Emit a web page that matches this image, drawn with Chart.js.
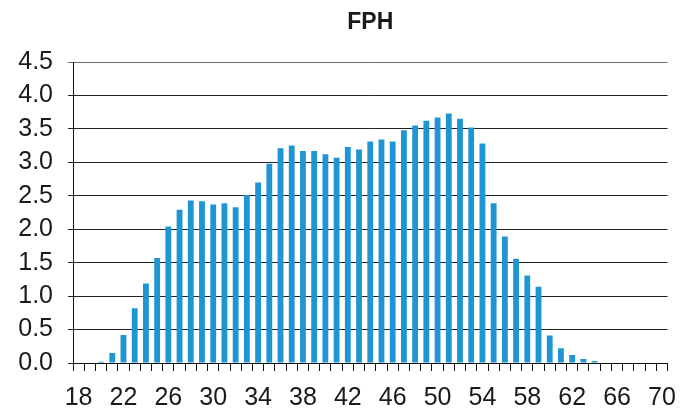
<!DOCTYPE html>
<html>
<head>
<meta charset="utf-8">
<script src="https://cdn.jsdelivr.net/npm/chart.js@4.4.0/dist/chart.umd.min.js"></script>
<style>
  html, body { margin: 0; padding: 0; background: #ffffff; }
  #wrap { width: 688px; height: 410px; position: relative; }
</style>
</head>
<body>
<div id="wrap"><canvas id="c" width="688" height="410"></canvas></div>
<script>
const categories = [18,19,20,21,22,23,24,25,26,27,28,29,30,31,32,33,34,35,36,37,38,39,40,41,42,43,44,45,46,47,48,49,50,51,52,53,54,55,56,57,58,59,60,61,62,63,64,65,66,67,68,69,70];
const fphValues = [0,0,0.02,0.15,0.42,0.82,1.19,1.57,2.04,2.29,2.43,2.42,2.37,2.39,2.33,2.51,2.70,2.98,3.21,3.25,3.17,3.17,3.12,3.07,3.23,3.19,3.31,3.34,3.31,3.48,3.55,3.62,3.67,3.73,3.65,3.52,3.28,2.39,1.89,1.56,1.31,1.14,0.41,0.22,0.12,0.06,0.03,0,0,0,0,0,0];
const xTickLabels = [18,22,26,30,34,38,42,46,50,54,58,62,66,70];
const yTickValues = [0,0.5,1.0,1.5,2.0,2.5,3.0,3.5,4.0,4.5];
const chartTitle = 'FPH';

const FONT = "'Liberation Sans', Arial, Helvetica, sans-serif";

new Chart(document.getElementById('c'), {
  type: 'bar',
  data: {
    labels: categories.map(String),
    datasets: [{
      label: chartTitle,
      data: fphValues,
      backgroundColor: '#1f96d3',
      borderWidth: 0,
      barPercentage: 0.52,
      categoryPercentage: 1.0
    }]
  },
  options: {
    responsive: false,
    animation: false,
    devicePixelRatio: 1,
    layout: { padding: { left: 0, right: 10, top: 0, bottom: 0 } },
    plugins: {
      legend: { display: false },
      tooltip: { enabled: false },
      title: {
        display: true,
        text: chartTitle,
        fullSize: false,
        color: '#1a1a1a',
        font: { family: FONT, size: 23, weight: 'bold', lineHeight: 1.2 },
        padding: { top: 9, bottom: 25.4 }
      }
    },
    scales: {
      x: {
        type: 'category',
        offset: true,
        grid: {
          display: true,
          offset: true,
          drawOnChartArea: false,
          drawTicks: true,
          tickLength: 8,
          color: '#111111',
          lineWidth: 1
        },
        border: { display: true, color: '#111111', width: 1 },
        ticks: {
          autoSkip: false,
          maxRotation: 0,
          minRotation: 0,
          padding: 12,
          color: '#1a1a1a',
          font: { family: FONT, size: 25 },
          callback: function(value) {
            const v = categories[value];
            return xTickLabels.includes(v) ? String(v) : '';
          }
        },
        afterFit: function(scale) { scale.height = 47; }
      },
      y: {
        min: 0,
        max: 4.5,
        afterBuildTicks: function(scale) {
          scale.ticks = yTickValues.map(v => ({ value: v }));
        },
        grid: {
          display: true,
          drawTicks: true,
          tickLength: 5,
          color: function(ctx) {
            return (ctx.tick && ctx.tick.value === 4.5) ? '#6a6a6a' : '#222222';
          },
          lineWidth: 1
        },
        border: { display: true, color: '#111111', width: 1 },
        ticks: {
          padding: 15,
          color: '#1a1a1a',
          font: { family: FONT, size: 25 },
          callback: function(value) { return Number(value).toFixed(1); }
        },
        afterFit: function(scale) { scale.width = 73; }
      }
    }
  }
});
</script>
</body>
</html>
